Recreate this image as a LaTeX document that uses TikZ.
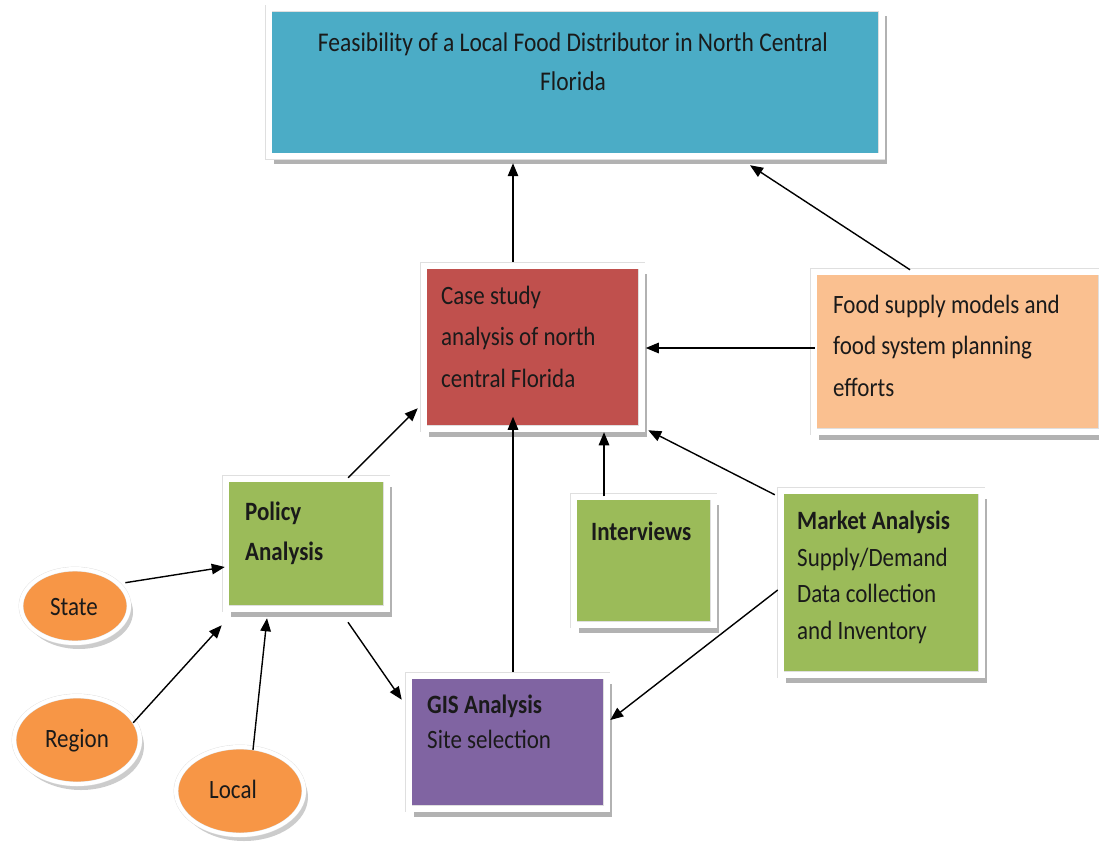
\documentclass[tikz,border=0pt]{standalone}
\usepackage{graphicx}
\usepackage{fontspec}
\setmainfont{Carlito}
\usetikzlibrary{arrows.meta,shadows,calc,shapes.geometric}
\definecolor{cblue}{HTML}{4BACC6}
\definecolor{cred}{HTML}{C0504D}
\definecolor{cpeach}{HTML}{FAC090}
\definecolor{cgreen}{HTML}{9BBB59}
\definecolor{cpurple}{HTML}{8064A2}
\definecolor{corange}{HTML}{F79646}
\definecolor{ctext}{HTML}{1A1A1A}
\newcommand\vs[1]{\scalebox{1}[1.15]{#1}}
\tikzset{
  frame/.style={draw=gray!25, double=white, double distance=6pt, line width=0.5pt,
    rectangle, inner sep=0pt, fill=#1,
    drop shadow={shadow xshift=5pt, shadow yshift=-8pt, fill=gray!60, opacity=1}},
  oval/.style={draw=gray!25, double=white, double distance=4pt, line width=0.4pt,
    ellipse, inner sep=0pt, fill=corange,
    drop shadow={shadow xshift=4pt, shadow yshift=-6pt, fill=gray!40, opacity=1}},
  lbl/.style={anchor=base west, inner sep=0pt, align=left, text=ctext,
    font=\fontsize{23}{41.5}\selectfont},
  conn/.style={line width=1.4pt, -{Triangle[length=13pt,width=10.5pt]}},
}
\begin{document}
\begin{tikzpicture}[x=1pt,y=-1pt]
\useasboundingbox (0,0) rectangle (1099,842);
% boxes
\node[frame=cblue, minimum width=613pt, minimum height=148pt] (title) at (575,82.5) {};
\node[frame=cred, minimum width=218pt, minimum height=163pt] (case) at (532.5,347) {};
\node[frame=cpeach, minimum width=288pt, minimum height=160pt] (food) at (957.5,351.5) {};
\node[frame=cgreen, minimum width=161pt, minimum height=130pt] (policy) at (306,543.5) {};
\node[frame=cgreen, minimum width=140pt, minimum height=128pt] (interv) at (643.5,560.5) {};
\node[frame=cgreen, minimum width=201pt, minimum height=184pt] (market) at (881,582.5) {};
\node[frame=cpurple, minimum width=198pt, minimum height=133pt] (gis) at (507.5,742) {};
% ellipses
\node[oval, minimum width=108pt, minimum height=74pt] (state) at (75,606) {};
\node[oval, minimum width=126pt, minimum height=88pt] (region) at (77,740) {};
\node[oval, minimum width=128pt, minimum height=88pt] (local) at (240,791) {};
% texts (anchored at the baseline of the last line)
\node[lbl, anchor=base, align=center, font=\fontsize{23.5}{39}\selectfont] (titletxt) at (573,91)
  {\vs{Feasibility of a Local Food Distributor in North Central}\\\vs{Florida}};
\node[lbl] (casetxt) at (441,387) {\vs{Case study}\\\vs{analysis of north}\\\vs{central Florida}};
\node[lbl] (foodtxt) at (833,396) {\vs{Food supply models and}\\\vs{food system planning}\\\vs{efforts}};
\node[lbl, font=\fontsize{23}{40}\selectfont\bfseries] (policytxt) at (245,560) {\vs{Policy}\\\vs{Analysis}};
\node[lbl, font=\fontsize{23}{40}\selectfont\bfseries] (intervtxt) at (591,540) {\vs{Interviews}};
\node[lbl, font=\fontsize{23}{36.5}\selectfont] (markettxt) at (797,639) {\vs{\textbf{Market Analysis}}\\\vs{Supply/Demand}\\\vs{Data collection}\\\vs{and Inventory}};
\node[lbl, font=\fontsize{23}{35}\selectfont] (gistxt) at (427,748) {\vs{\textbf{GIS Analysis}}\\\vs{Site selection}};
\node[lbl, anchor=base] (statetxt) at (74,615) {\vs{State}};
\node[lbl, anchor=base] (regiontxt) at (77,747) {\vs{Region}};
\node[lbl, anchor=base] (localtxt) at (233,798) {\vs{Local}};
% connectors
\draw[conn] ($(case.north)+(-19.5,-3.5)$) -- ($(title.south)+(-62,6.5)$);
\draw[conn] ($(food.north)+(-47.5,-1.5)$) -- ($(title.south)+(175,8.5)$);
\draw[conn] ($(food.west)+(1.5,-3.5)$) -- ($(case.east)+(4,1)$);
\draw[conn] ($(policy.north)+(42,-0.5)$) -- ($(case.south west)+(-5.5,-20.5)$);
\draw[conn] ($(gis.north)+(5.5,-3.5)$) -- ($(case.south)+(-19.5,-12)$);
\draw[conn] ($(interv.north)+(-39.5,0)$) -- ($(case.south)+(71.5,3.5)$);
\draw[conn] ($(market.north west)+(-5.5,4.5)$) -- ($(case.south east)+(6.5,1.5)$);
\draw[conn] ($(market.west)+(-2.5,7.5)$) -- ($(gis.east)+(3.5,-22)$);
\draw[conn] ($(policy.south)+(42,13.5)$) -- ($(gis.north west)+(-6.5,24.5)$);
\draw[conn] ($(state.north east)+(12,3)$) -- ($(policy.west)+(-0.5,23.5)$);
\draw[conn] ($(region.north east)+(11.5,14)$) -- ($(policy.south west)+(-3.5,16.5)$);
\draw[conn] ($(local.north)+(13,3)$) -- ($(policy.south)+(-39,9.5)$);
\end{tikzpicture}
\end{document}
